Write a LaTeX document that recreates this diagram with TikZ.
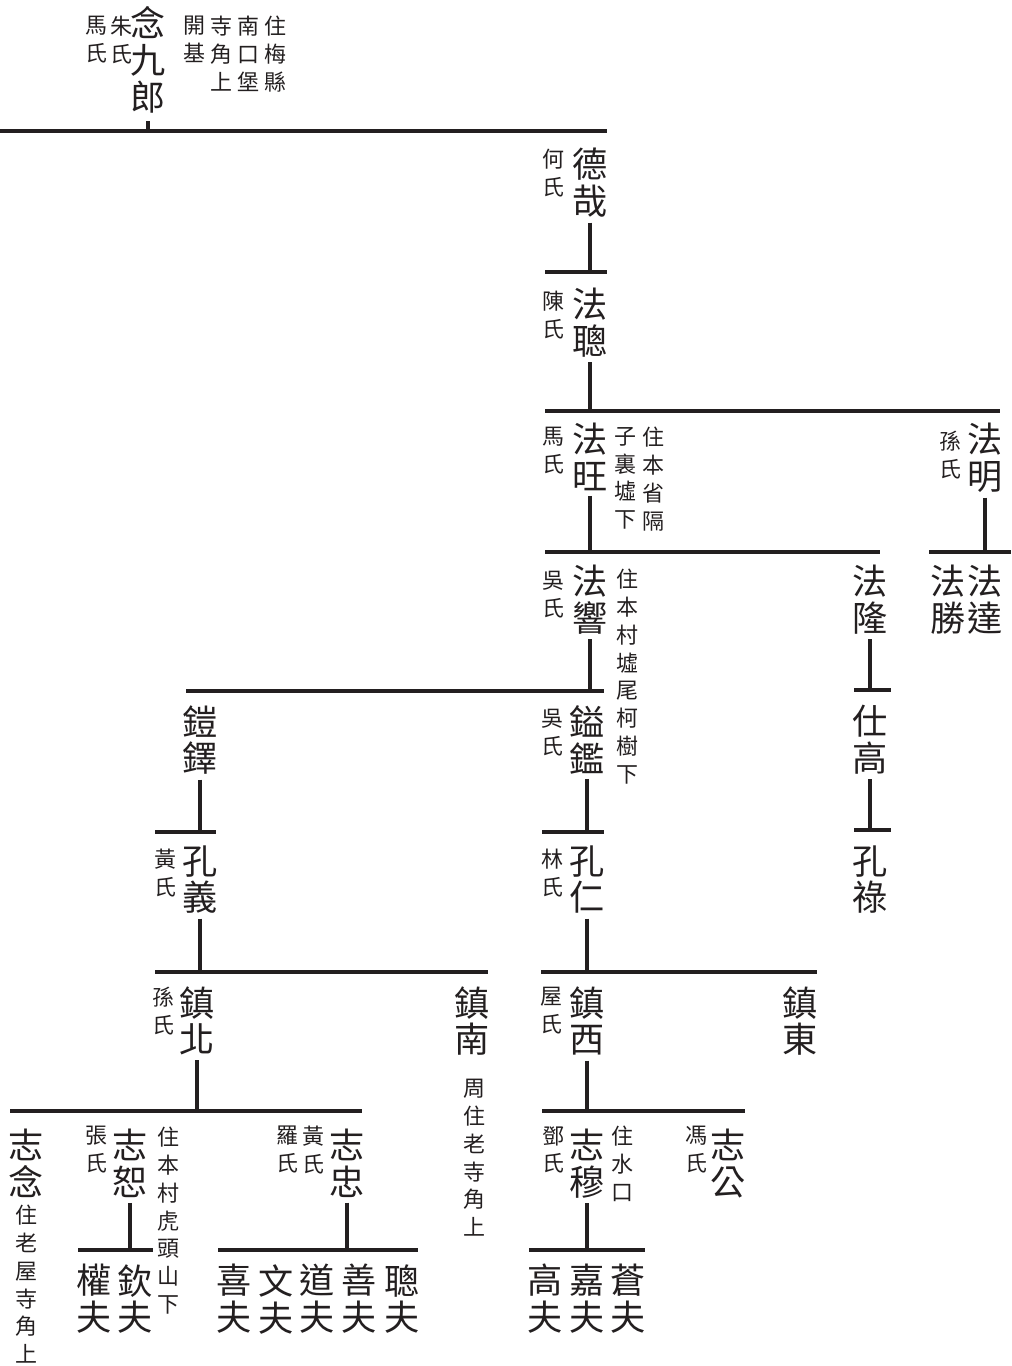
\documentclass[tikz,border=0pt]{standalone}
\usepackage{fontspec}
\newfontfamily\cjk{Noto Sans CJK TC}
\definecolor{ink}{HTML}{231F20}

\begin{document}
\begin{tikzpicture}[x=0.02cm, y=-0.02cm,
  nm/.style={inner sep=0pt, anchor=north, align=center, text=ink, font=\cjk\fontsize{20}{21}\selectfont},
  sm/.style={inner sep=0pt, anchor=north, align=center, text=ink, font=\cjk\fontsize{12.5}{15.8}\selectfont},
  bar/.style={ink, line width=2.3pt},
  link/.style={bar, shorten <=0.09cm}]
\useasboundingbox (0,0) rectangle (1011,1366);

% 第一代
\node[nm] (nianjiu) at (148,6) {念\\九\\郎};
\node[sm] (nj-w1) at (121,16) {朱\\氏};
\node[sm] (nj-w2) at (96,16) {馬\\氏};
\node[sm] (nj-n1) at (275,16) {住\\梅\\縣};
\node[sm] (nj-n2) at (248,16) {南\\口\\堡};
\node[sm] (nj-n3) at (221,16) {寺\\角\\上};
\node[sm] (nj-n4) at (194,16) {開\\基};
\coordinate (b0l) at (0,131); \coordinate (b0r) at (607,131);
\draw[bar] (b0l) -- (b0r);
\draw[link, shorten <=0.16cm] (nianjiu) -- (nianjiu |- b0l);

% 德哉 -- 法聰
\node[nm] (dezai) at (590,148) {德\\哉};
\node[sm] (dz-w) at (553,149) {何\\氏};
\coordinate (b1l) at (545,272); \coordinate (b1r) at (607,272);
\draw[bar] (b1l) -- (b1r);
\draw[link] (dezai) -- (dezai |- b1l);

\node[nm] (facong) at (590,288) {法\\聰};
\node[sm] (fc-w) at (553,291) {陳\\氏};
\coordinate (b2l) at (545,411); \coordinate (b2r) at (1000,411);
\draw[bar] (b2l) -- (b2r);
\draw[link] (facong) -- (facong |- b2l);

% 法旺, 法明
\node[nm] (fawang) at (590,423) {法\\旺};
\node[sm] (fw-w) at (553,427) {馬\\氏};
\node[sm] (fw-n1) at (653,427) {住\\本\\省\\隔};
\node[sm] (fw-n2) at (625,427) {子\\裏\\墟\\下};
\node[nm] (faming) at (985,423) {法\\明};
\node[sm] (fm-w) at (950,431) {孫\\氏};
\coordinate (b3l) at (545,552); \coordinate (b3r) at (880,552);
\draw[bar] (b3l) -- (b3r);
\draw[link] (fawang) -- (fawang |- b3l);
\coordinate (b4l) at (929,552); \coordinate (b4r) at (1011,552);
\draw[bar] (b4l) -- (b4r);
\draw[link] (faming) -- (faming |- b4l);

\node[nm] (fada) at (985,565) {法\\達};
\node[nm] (fasheng) at (948,565) {法\\勝};

% 法隆 -- 仕高 -- 孔祿
\node[nm] (falong) at (870,565) {法\\隆};
\coordinate (b6l) at (854,690); \coordinate (b6r) at (891,690);
\draw[bar] (b6l) -- (b6r);
\draw[link] (falong) -- (falong |- b6l);
\node[nm] (shigao) at (870,705) {仕\\高};
\coordinate (b7l) at (854,830); \coordinate (b7r) at (891,830);
\draw[bar] (b7l) -- (b7r);
\draw[link] (shigao) -- (shigao |- b7l);
\node[nm] (konglu) at (870,845) {孔\\祿};

% 法響
\node[nm] (faxiang) at (590,565) {法\\響};
\node[sm] (fx-w) at (553,571) {吳\\氏};
\node[sm] (fx-n) at (627,569) {住\\本\\村\\墟\\尾\\柯\\樹\\下};
\coordinate (b5l) at (186,691); \coordinate (b5r) at (604,691);
\draw[bar] (b5l) -- (b5r);
\draw[link] (faxiang) -- (faxiang |- b5l);

% 鎧鐸 -- 孔義
\node[nm] (kaiduo) at (200,705) {鎧\\鐸};
\coordinate (b8l) at (155,832); \coordinate (b8r) at (216,832);
\draw[bar] (b8l) -- (b8r);
\draw[link] (kaiduo) -- (kaiduo |- b8l);
\node[nm] (kongyi) at (200,845) {孔\\義};
\node[sm] (ky-w) at (165,849) {黃\\氏};
\coordinate (b10l) at (155,972); \coordinate (b10r) at (488,972);
\draw[bar] (b10l) -- (b10r);
\draw[link] (kongyi) -- (kongyi |- b10l);

% 鎰鑑 -- 孔仁
\node[nm] (yijian) at (587,705) {鎰\\鑑};
\node[sm] (yj-w) at (552,709) {吳\\氏};
\coordinate (b9l) at (542,832); \coordinate (b9r) at (604,832);
\draw[bar] (b9l) -- (b9r);
\draw[link] (yijian) -- (yijian |- b9l);
\node[nm] (kongren) at (587,845) {孔\\仁};
\node[sm] (kr-w) at (552,849) {林\\氏};
\coordinate (b11l) at (541,972); \coordinate (b11r) at (817,972);
\draw[bar] (b11l) -- (b11r);
\draw[link] (kongren) -- (kongren |- b11l);

% 鎮字輩
\node[nm] (zhenbei) at (197,986) {鎮\\北};
\node[sm] (zb-w) at (163,987) {孫\\氏};
\node[nm] (zhennan) at (472,986) {鎮\\南};
\node[sm] (zn-n) at (474,1079) {周\\住\\老\\寺\\角\\上};
\node[nm] (zhenxi) at (587,986) {鎮\\西};
\node[sm] (zx-w) at (551,987) {屋\\氏};
\node[nm] (zhendong) at (800,986) {鎮\\東};
\coordinate (b12l) at (10,1111); \coordinate (b12r) at (362,1111);
\draw[bar] (b12l) -- (b12r);
\draw[link] (zhenbei) -- (zhenbei |- b12l);
\coordinate (b13l) at (542,1111); \coordinate (b13r) at (745,1111);
\draw[bar] (b13l) -- (b13r);
\draw[link] (zhenxi) -- (zhenxi |- b13l);

% 志字輩
\node[nm] (zhinian) at (26,1129) {志\\念};
\node[sm] (zn2-n) at (26,1205) {住\\老\\屋\\寺\\角\\上};
\node[nm] (zhishu) at (130,1129) {志\\恕};
\node[sm] (zs-w) at (96,1126) {張\\氏};
\node[sm] (zs-n) at (168,1127) {住\\本\\村\\虎\\頭\\山\\下};
\node[nm] (zhizhong) at (347,1129) {志\\忠};
\node[sm] (zz-w1) at (313,1126) {黃\\氏};
\node[sm] (zz-w2) at (287,1126) {羅\\氏};
\node[nm] (zhimu) at (587,1129) {志\\穆};
\node[sm] (zm-w) at (553,1126) {鄧\\氏};
\node[sm] (zm-n) at (622,1126) {住\\水\\口};
\node[nm] (zhigong) at (728,1129) {志\\公};
\node[sm] (zg-w) at (696,1126) {馮\\氏};
\coordinate (b14l) at (78,1250); \coordinate (b14r) at (153,1250);
\draw[bar] (b14l) -- (b14r);
\draw[link] (zhishu) -- (zhishu |- b14l);
\coordinate (b15l) at (218,1250); \coordinate (b15r) at (418,1250);
\draw[bar] (b15l) -- (b15r);
\draw[link] (zhizhong) -- (zhizhong |- b15l);
\coordinate (b16l) at (529,1250); \coordinate (b16r) at (645,1250);
\draw[bar] (b16l) -- (b16r);
\draw[link] (zhimu) -- (zhimu |- b16l);

% 夫字輩
\node[nm] (quanfu) at (94,1264) {權\\夫};
\node[nm] (qinfu) at (135,1264) {欽\\夫};
\node[nm] (xifu) at (234,1264) {喜\\夫};
\node[nm] (wenfu) at (276,1264) {文\\夫};
\node[nm] (daofu) at (317,1264) {道\\夫};
\node[nm] (shanfu) at (359,1264) {善\\夫};
\node[nm] (congfu) at (402,1264) {聰\\夫};
\node[nm] (gaofu) at (545,1264) {高\\夫};
\node[nm] (jiafu) at (587,1264) {嘉\\夫};
\node[nm] (cangfu) at (628,1264) {蒼\\夫};
\end{tikzpicture}
\end{document}
